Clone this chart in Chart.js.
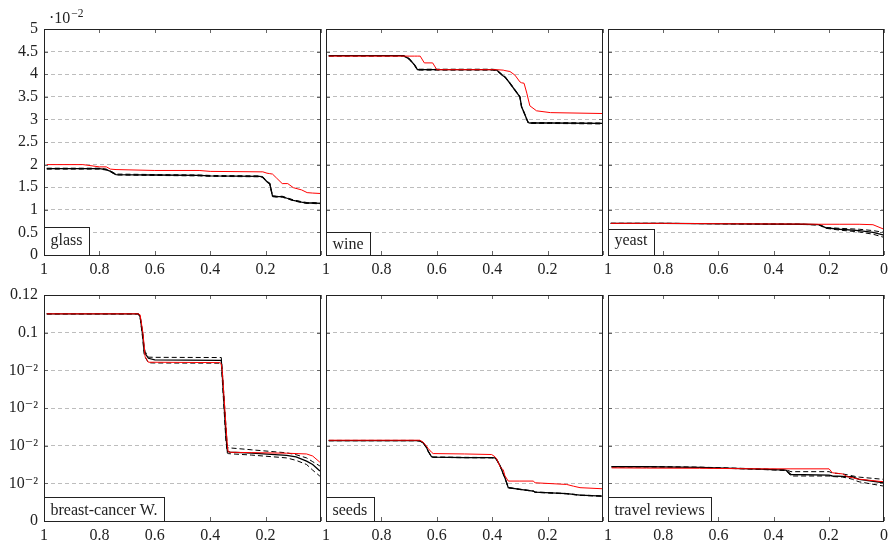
<!DOCTYPE html>
<html>
<head>
<meta charset="utf-8">
<script src="https://cdn.jsdelivr.net/npm/chart.js@4.4.0/dist/chart.umd.min.js"></script>
<style>
  body { margin: 0; background: #fff; overflow: hidden; }
  #wrap { position: relative; width: 894px; height: 543px; }
  canvas { position: absolute; }
</style>
</head>
<body>
<div id="wrap">
  <canvas id="c0" width="329" height="281" style="left:0px;top:0px"></canvas>
  <canvas id="c1" width="329" height="281" style="left:282px;top:0px"></canvas>
  <canvas id="c2" width="329" height="281" style="left:564px;top:0px"></canvas>
  <canvas id="c3" width="329" height="281" style="left:0px;top:266px"></canvas>
  <canvas id="c4" width="329" height="281" style="left:282px;top:266px"></canvas>
  <canvas id="c5" width="329" height="281" style="left:564px;top:266px"></canvas>
</div>
<script>
// axes
var xTicks = [1, 0.8, 0.6, 0.4, 0.2, 0];
var xTickLabels = ['1', '0.8', '0.6', '0.4', '0.2', '0'];
var topYTicks = [0, 0.5, 1, 1.5, 2, 2.5, 3, 3.5, 4, 4.5, 5];
var topYLabels = ['0', '0.5', '1', '1.5', '2', '2.5', '3', '3.5', '4', '4.5', '5'];
var bottomYTicks = [0, 0.02, 0.04, 0.06, 0.08, 0.1, 0.12];
var bottomYLabels = ['0', '10⁻²', '10⁻²', '10⁻²', '10⁻²', '0.1', '0.12'];
var panelNames = ['glass', 'wine', 'yeast', 'breast-cancer W.', 'seeds', 'travel reviews'];

// glass (·10^-2)
var glassX     = [0.99, 0.86, 0.80, 0.775, 0.76, 0.74, 0.60, 0.44, 0.40, 0.22, 0.21, 0.195, 0.185, 0.175, 0.16, 0.14, 0.12, 0.10, 0.07, 0.05, 0.03, 0.0];
var glassRed   = [2.00, 2.00, 1.95, 1.95, 1.90, 1.89, 1.87, 1.87, 1.85, 1.84, 1.84, 1.81, 1.80, 1.79, 1.70, 1.58, 1.58, 1.49, 1.44, 1.38, 1.37, 1.36];
var glassBlack = [1.91, 1.91, 1.91, 1.89, 1.85, 1.78, 1.77, 1.76, 1.75, 1.74, 1.72, 1.62, 1.58, 1.30, 1.29, 1.29, 1.25, 1.21, 1.17, 1.15, 1.15, 1.14];
var glassHi    = [1.92, 1.92, 1.92, 1.90, 1.86, 1.79, 1.78, 1.77, 1.76, 1.75, 1.73, 1.63, 1.59, 1.31, 1.30, 1.30, 1.26, 1.22, 1.18, 1.16, 1.16, 1.15];
var glassLo    = [1.90, 1.90, 1.90, 1.88, 1.84, 1.77, 1.76, 1.75, 1.74, 1.73, 1.71, 1.61, 1.57, 1.29, 1.28, 1.28, 1.24, 1.20, 1.16, 1.14, 1.14, 1.13];

// wine (·10^-2)
var wineX     = [0.99, 0.72, 0.70, 0.68, 0.67, 0.66, 0.645, 0.615, 0.60, 0.40, 0.384, 0.36, 0.354, 0.336, 0.318, 0.30, 0.294, 0.285, 0.275, 0.27, 0.264, 0.24, 0.19, 0.0];
var wineRed   = [4.40, 4.40, 4.40, 4.40, 4.40, 4.40, 4.25, 4.25, 4.10, 4.10, 4.10, 4.09, 4.08, 4.06, 3.98, 3.83, 3.81, 3.80, 3.58, 3.45, 3.30, 3.19, 3.15, 3.13];
var wineBlack = [4.41, 4.41, 4.34, 4.20, 4.10, 4.10, 4.10, 4.10, 4.10, 4.10, 4.09, 3.96, 3.94, 3.80, 3.65, 3.50, 3.28, 3.15, 3.00, 2.93, 2.92, 2.92, 2.92, 2.91];
var wineHi    = [4.41, 4.41, 4.35, 4.21, 4.11, 4.11, 4.11, 4.11, 4.11, 4.11, 4.10, 3.97, 3.95, 3.81, 3.66, 3.51, 3.29, 3.16, 3.01, 2.94, 2.93, 2.93, 2.93, 2.92];
var wineLo    = [4.40, 4.40, 4.33, 4.19, 4.09, 4.09, 4.09, 4.09, 4.09, 4.09, 4.08, 3.95, 3.93, 3.79, 3.64, 3.49, 3.27, 3.14, 2.99, 2.92, 2.91, 2.91, 2.91, 2.90];

// yeast (·10^-2)
var yeastX     = [0.99, 0.80, 0.55, 0.30, 0.235, 0.21, 0.16, 0.09, 0.04, 0.0];
var yeastRed   = [0.70, 0.70, 0.69, 0.685, 0.68, 0.68, 0.68, 0.68, 0.67, 0.57];
var yeastBlack = [0.70, 0.70, 0.69, 0.68, 0.67, 0.60, 0.57, 0.54, 0.50, 0.44];
var yeastHi    = [0.70, 0.70, 0.69, 0.68, 0.67, 0.61, 0.59, 0.57, 0.54, 0.50];
var yeastLo    = [0.70, 0.70, 0.69, 0.68, 0.66, 0.59, 0.55, 0.51, 0.46, 0.39];

// breast-cancer W.
var breastX     = [0.99, 0.66, 0.653, 0.643, 0.639, 0.635, 0.623, 0.60, 0.365, 0.36, 0.356, 0.343, 0.338, 0.335, 0.328, 0.25, 0.124, 0.09, 0.052, 0.03, 0.004];
var breastRed   = [0.110, 0.110, 0.1095, 0.100, 0.094, 0.0873, 0.0843, 0.0843, 0.0841, 0.0835, 0.079, 0.050, 0.040, 0.0368, 0.0365, 0.0363, 0.0360, 0.0358, 0.0356, 0.0345, 0.0312];
var breastBlack = [0.110, 0.110, 0.1085, 0.0979, 0.0909, 0.089, 0.0864, 0.0856, 0.0853, 0.0853, 0.0767, 0.045, 0.037, 0.0368, 0.0366, 0.0360, 0.0348, 0.0340, 0.0318, 0.0300, 0.0265];
var breastHi    = [0.110, 0.110, 0.1088, 0.099, 0.093, 0.090, 0.0870, 0.0869, 0.0868, 0.0868, 0.079, 0.050, 0.0390, 0.0389, 0.0388, 0.0378, 0.0362, 0.0352, 0.0335, 0.0315, 0.0292];
var breastLo    = [0.110, 0.110, 0.1082, 0.096, 0.089, 0.087, 0.0840, 0.0839, 0.0838, 0.0838, 0.074, 0.042, 0.036, 0.0358, 0.0357, 0.0350, 0.0335, 0.0322, 0.0300, 0.0270, 0.0238];

// seeds
var seedsX     = [0.99, 0.672, 0.661, 0.649, 0.637, 0.631, 0.619, 0.613, 0.50, 0.402, 0.39, 0.384, 0.372, 0.366, 0.36, 0.354, 0.342, 0.30, 0.252, 0.245, 0.131, 0.107, 0.083, 0.0];
var seedsRed   = [0.0429, 0.0429, 0.0429, 0.0418, 0.0397, 0.0385, 0.0365, 0.0358, 0.0356, 0.0353, 0.0341, 0.0330, 0.0290, 0.0280, 0.0271, 0.0240, 0.0212, 0.0212, 0.0212, 0.0203, 0.0194, 0.0185, 0.0177, 0.0171];
var seedsBlack = [0.0427, 0.0427, 0.0425, 0.0415, 0.0390, 0.0370, 0.0341, 0.0339, 0.0337, 0.0336, 0.0335, 0.0326, 0.0295, 0.0273, 0.0250, 0.0230, 0.0177, 0.0168, 0.0159, 0.0153, 0.0145, 0.0141, 0.0137, 0.0132];
var seedsHi    = [0.0428, 0.0428, 0.0426, 0.0416, 0.0391, 0.0371, 0.0342, 0.0340, 0.0338, 0.0337, 0.0336, 0.0327, 0.0296, 0.0274, 0.0251, 0.0231, 0.0178, 0.0169, 0.0160, 0.0154, 0.0146, 0.0142, 0.0138, 0.0133];
var seedsLo    = [0.0426, 0.0426, 0.0424, 0.0414, 0.0389, 0.0369, 0.0340, 0.0338, 0.0336, 0.0335, 0.0334, 0.0325, 0.0294, 0.0272, 0.0249, 0.0229, 0.0176, 0.0167, 0.0158, 0.0152, 0.0144, 0.0140, 0.0136, 0.0131];

// travel reviews
var travelX     = [0.987, 0.86, 0.668, 0.451, 0.355, 0.337, 0.199, 0.187, 0.15, 0.132, 0.115, 0.102, 0.09, 0.0];
var travelRed   = [0.0282, 0.0281, 0.0280, 0.0277, 0.0277, 0.0277, 0.0277, 0.0256, 0.0250, 0.0235, 0.0230, 0.0225, 0.0222, 0.0208];
var travelBlack = [0.0288, 0.0288, 0.0285, 0.0275, 0.0270, 0.0247, 0.0244, 0.0239, 0.0237, 0.0236, 0.0235, 0.0228, 0.0221, 0.0203];
var travelHi    = [0.0289, 0.0289, 0.0286, 0.0277, 0.0272, 0.0262, 0.0262, 0.0255, 0.0250, 0.0245, 0.0240, 0.0236, 0.0233, 0.0221];
var travelLo    = [0.0287, 0.0287, 0.0284, 0.0274, 0.0268, 0.0239, 0.0239, 0.0236, 0.0233, 0.0228, 0.0222, 0.0214, 0.0208, 0.0185];

var serif = '"Liberation Serif", "DejaVu Serif", serif';

// frame, inward ticks, name box, exponent
var panelDeco = {
    id: 'panelDeco',
    afterDraw: function (chart, args, opts) {
        var ctx = chart.ctx, a = chart.chartArea, sx = chart.scales.x, sy = chart.scales.y;
        ctx.save();
        ctx.strokeStyle = '#666';
        ctx.lineWidth = 1;
        ctx.beginPath();
        sx.ticks.forEach(function (t) {
            var px = Math.round(sx.getPixelForValue(t.value)) + 0.5;
            ctx.moveTo(px, a.top); ctx.lineTo(px, a.top + 4);
            ctx.moveTo(px, a.bottom); ctx.lineTo(px, a.bottom - 4);
        });
        sy.ticks.forEach(function (t) {
            var py = Math.round(sy.getPixelForValue(t.value)) + 0.5;
            ctx.moveTo(a.left, py); ctx.lineTo(a.left + 4, py);
            ctx.moveTo(a.right, py); ctx.lineTo(a.right - 4, py);
        });
        ctx.stroke();

        ctx.strokeStyle = '#222';
        ctx.strokeRect(a.left + 0.5, a.top + 0.5, a.right - a.left - 1, a.bottom - a.top);

        ctx.font = '16px ' + serif;
        var m = ctx.measureText(opts.label);
        var asc = m.actualBoundingBoxAscent, desc = m.actualBoundingBoxDescent;
        var w = Math.round(m.width + 13);
        var boxTop = Math.round(a.bottom - asc - desc - 12);
        ctx.fillStyle = '#fff';
        ctx.fillRect(a.left, boxTop, w, a.bottom - boxTop);
        ctx.strokeRect(a.left + 0.5, boxTop + 0.5, w, a.bottom - boxTop);
        ctx.fillStyle = '#222';
        ctx.textBaseline = 'alphabetic';
        ctx.fillText(opts.label, a.left + 6.5, a.bottom - 6 - desc);

        if (opts.exponent) {
            ctx.font = '16px ' + serif;
            ctx.fillText('·10', a.left + 5, 23);
            var w2 = ctx.measureText('·10').width;
            ctx.font = '11.5px ' + serif;
            ctx.fillText('−2', a.left + 6 + w2, 17);
        }
        ctx.restore();
    }
};

function pts(xs, ys) {
    return xs.map(function (x, i) { return {x: x, y: ys[i]}; });
}

function makePanel(idx, xs, red, black, hi, lo) {
    var row = Math.floor(idx / 3), col = idx % 3;
    var yTicks = row === 0 ? topYTicks : bottomYTicks;
    var yLabels = row === 0 ? topYLabels : bottomYLabels;
    var font = {family: serif, size: 16};
    new Chart(document.getElementById('c' + idx), {
        type: 'line',
        data: {
            datasets: [
                {data: pts(xs, red), borderColor: '#ff0000', borderWidth: 1},
                {data: pts(xs, black), borderColor: '#000', borderWidth: 1.3},
                {data: pts(xs, hi), borderColor: '#000', borderWidth: 1, borderDash: [5, 3]},
                {data: pts(xs, lo), borderColor: '#000', borderWidth: 1, borderDash: [5, 3]}
            ]
        },
        options: {
            responsive: false,
            animation: false,
            events: [],
            layout: {padding: {left: 0, top: 29, right: 8, bottom: 0}},
            elements: {point: {radius: 0}, line: {tension: 0}},
            plugins: {
                legend: {display: false},
                tooltip: {enabled: false},
                panelDeco: {label: panelNames[idx], exponent: idx === 0}
            },
            scales: {
                x: {
                    type: 'linear', min: 0, max: 1, reverse: true,
                    grid: {display: false, drawTicks: false},
                    border: {display: false},
                    afterBuildTicks: function (s) { s.ticks = xTicks.map(function (v) { return {value: v}; }); },
                    afterFit: function (s) { s.height = 26; },
                    ticks: {
                        autoSkip: false, maxRotation: 0, padding: 5, color: '#222', font: font,
                        callback: function (v, i) { return (i === 5 && col < 2) ? '' : xTickLabels[i]; }
                    }
                },
                y: {
                    type: 'linear', min: 0, max: yTicks[yTicks.length - 1],
                    grid: {color: '#bdbdbd', drawTicks: false, lineWidth: 1},
                    border: {display: false, dash: [4, 3]},
                    afterBuildTicks: function (s) { s.ticks = yTicks.map(function (v) { return {value: v}; }); },
                    afterFit: function (s) { s.width = 44; },
                    ticks: {
                        padding: 6, color: '#222', font: font,
                        callback: function (v, i) { return col === 0 ? yLabels[i] : ''; }
                    }
                }
            }
        },
        plugins: [panelDeco]
    });
}

makePanel(0, glassX, glassRed, glassBlack, glassHi, glassLo);
makePanel(1, wineX, wineRed, wineBlack, wineHi, wineLo);
makePanel(2, yeastX, yeastRed, yeastBlack, yeastHi, yeastLo);
makePanel(3, breastX, breastRed, breastBlack, breastHi, breastLo);
makePanel(4, seedsX, seedsRed, seedsBlack, seedsHi, seedsLo);
makePanel(5, travelX, travelRed, travelBlack, travelHi, travelLo);
</script>
</body>
</html>
